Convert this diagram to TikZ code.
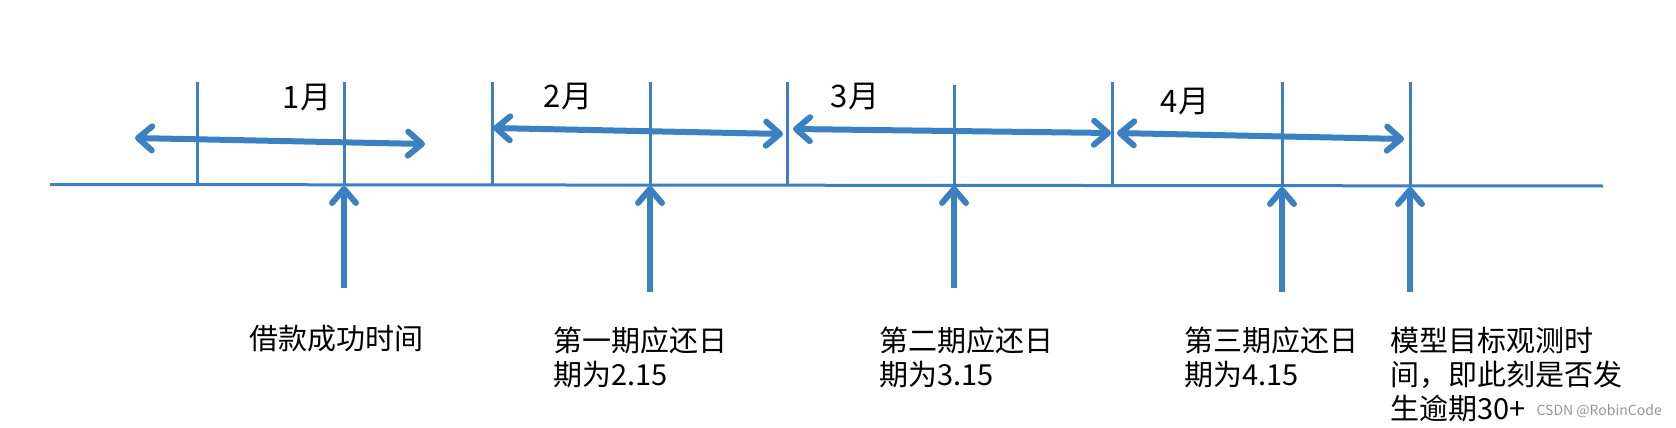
\documentclass[tikz,border=0pt]{standalone}
\usepackage{fontspec}
\setmainfont{Noto Sans CJK SC}
\usetikzlibrary{arrows.meta}
\definecolor{lineblue}{RGB}{59,128,194}
\definecolor{wmgray}{RGB}{150,150,150}
\begin{document}
\begin{tikzpicture}[x=1pt,y=-1pt,
  thinline/.style={draw=lineblue,line width=3pt},
  barb/.tip={Straight Barb[length=14pt,width=24pt,round]},
  span/.style={draw=lineblue,line width=6pt,barb-barb},
  pointer/.style={draw=lineblue,line width=6pt,-barb},
  lbl/.style={font=\fontsize{31}{36}\selectfont,inner sep=0pt},
  desc/.style={font=\fontsize{29}{34}\selectfont,inner sep=0pt,align=left,anchor=north west}]
\useasboundingbox (0,0) rectangle (1676,428);

% baseline
\coordinate (bl) at (50,184.5);
\coordinate (br) at (1603,186);
\draw[thinline] (bl) -- (br);

% ticks
\foreach \n/\x/\t in {0/197/82,1/344/82,2/492/82,3/650/82,4/787/82,5/954/85,6/1112/82,7/1282/82,8/1410/82}{
  \coordinate (tt\n) at (\x,\t);
  \coordinate (tb\n) at (\x,185);
  \draw[thinline] (tt\n) -- (tb\n);
}

% month spans
\coordinate (a1l) at (135,138); \coordinate (a1r) at (425,144);
\coordinate (a2l) at (493,128); \coordinate (a2r) at (783,134);
\coordinate (a3l) at (793,129); \coordinate (a3r) at (1111,133);
\coordinate (a4l) at (1117,133); \coordinate (a4r) at (1404,139);
\draw[span] (a1l) -- (a1r);
\draw[span] (a2l) -- (a2r);
\draw[span] (a3l) -- (a3r);
\draw[span] (a4l) -- (a4r);

\node[lbl] (m1) at (307,98) {1月};
\node[lbl] (m2) at (568,97) {2月};
\node[lbl] (m3) at (855,97) {3月};
\node[lbl] (m4) at (1185,102) {4月};

% pointers
\coordinate (p1b) at (344,288);  \coordinate (p1t) at (344,186);
\coordinate (p2b) at (650,292);  \coordinate (p2t) at (650,186);
\coordinate (p3b) at (954,288);  \coordinate (p3t) at (954,186);
\coordinate (p4b) at (1282,292); \coordinate (p4t) at (1282,187);
\coordinate (p5b) at (1410,292); \coordinate (p5t) at (1410,187);
\draw[pointer] (p1b) -- (p1t);
\draw[pointer] (p2b) -- (p2t);
\draw[pointer] (p3b) -- (p3t);
\draw[pointer] (p4b) -- (p4t);
\draw[pointer] (p5b) -- (p5t);

% descriptions
\node[desc] (d1) at (249,325) {借款成功时间};
\node[desc] (d2) at (553,327) {第一期应还日\\期为2.15};
\node[desc] (d3) at (879,327) {第二期应还日\\期为3.15};
\node[desc] (d4) at (1184,327) {第三期应还日\\期为4.15};
\node[desc] (d5) at (1390,327) {模型目标观测时\\间，即此刻是否发\\生逾期30+};

\node[font=\fontsize{14}{16}\selectfont,text=wmgray,inner sep=0pt,anchor=east] (wm) at (1662,411) {CSDN @RobinCode};
\end{tikzpicture}
\end{document}
